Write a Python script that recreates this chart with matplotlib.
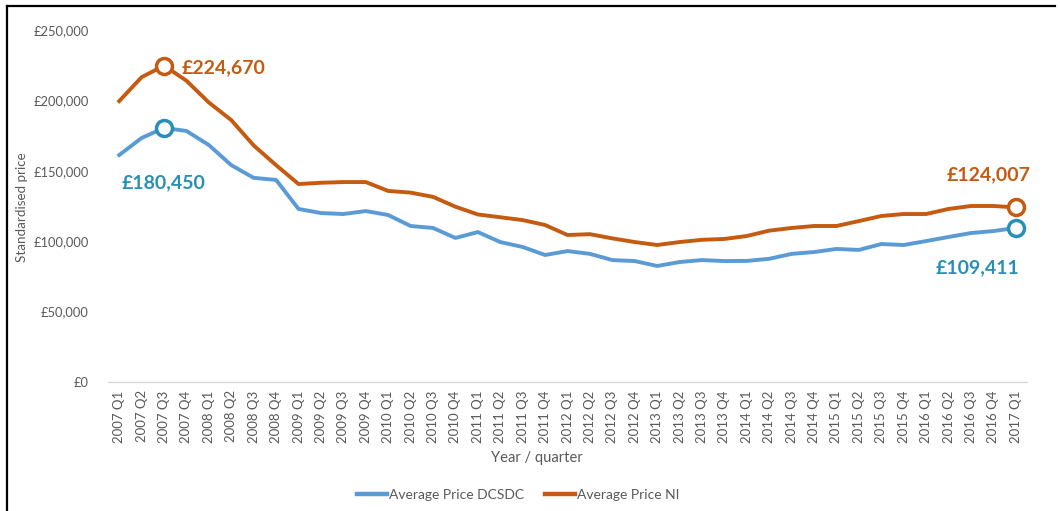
import matplotlib
matplotlib.use("Agg")
import matplotlib.pyplot as plt
from matplotlib.lines import Line2D
from matplotlib.ticker import FuncFormatter

plt.rcParams['font.family'] = ['Lato', 'DejaVu Sans']

quarters = [f"{y} Q{q}" for y in range(2007, 2018) for q in range(1, 5)][:41]

dcsdc = [161200, 173300, 180450, 178300, 168300, 154000, 145000, 143500, 122900, 120000,
         119300, 121400, 118600, 110800, 109400, 102300, 106500, 99400, 95900, 90200,
         93000, 91000, 86600, 85900, 82400, 85200, 86600, 85900, 86000, 87500,
         91000, 92300, 94500, 93800, 98000, 97300, 100100, 103000, 105800, 107200,
         109411]
ni = [199500, 216500, 224670, 214000, 198500, 186000, 168000, 154000, 140600, 141500,
      142000, 142000, 135700, 134500, 131500, 124500, 119000, 117000, 115000, 111500,
      104400, 105000, 102000, 99400, 97300, 99400, 101000, 101600, 103700, 107500,
      109400, 110800, 110800, 114300, 117900, 119300, 119300, 122900, 125000, 125000,
      124007]

blue = '#5B9BD5'
blue_dark = '#2A8FB8'
orange = '#C55A11'
grey = '#595959'

fig = plt.figure(figsize=(10.6, 5.11), dpi=100)
ax = fig.add_axes([108/1060, 1-382/511, (1027-108)/1060, (382-30)/511])

x = list(range(len(quarters)))
ax.plot(x, dcsdc, color=blue, lw=2.8, solid_joinstyle='round', label='Average Price DCSDC', zorder=3)
ax.plot(x, ni, color=orange, lw=2.8, solid_joinstyle='round', label='Average Price NI', zorder=3)

ax.set_xlim(-0.5, len(quarters) - 0.5)
ax.set_ylim(0, 250000)
ax.set_yticks(range(0, 250001, 50000))
ax.yaxis.set_major_formatter(FuncFormatter(lambda v, p: f"£{int(v):,}"))
ax.set_xticks(x)
ax.set_xticklabels(quarters, rotation=90, fontsize=9.5, color=grey)
ax.tick_params(axis='y', labelsize=9.3, labelcolor=grey, length=0, pad=14)
ax.tick_params(axis='x', length=0, pad=6)
for s in ['top', 'right', 'left']:
    ax.spines[s].set_visible(False)
ax.spines['bottom'].set_color('#D9D9D9')
ax.spines['bottom'].set_linewidth(1)

# highlighted points
peak_b = dcsdc.index(max(dcsdc))
peak_o = ni.index(max(ni))
last = len(quarters) - 1
mk = dict(marker='o', ms=11.5, mfc='white', mew=2.5, ls='none', zorder=4)
ax.plot([peak_o, last], [ni[peak_o], ni[last]], mec=orange, **mk)
ax.plot([peak_b, last], [dcsdc[peak_b], dcsdc[last]], mec=blue_dark, **mk)

af = dict(fontsize=14, fontweight='bold', textcoords='offset pixels', va='center')
ax.annotate(f"£{ni[peak_o]:,}", (peak_o, ni[peak_o]), xytext=(18, -2), ha='left', color=orange, **af)
ax.annotate(f"£{dcsdc[peak_b]:,}", (peak_b, dcsdc[peak_b]), xytext=(0, -55), ha='center', color=blue_dark, **af)
ax.annotate(f"£{ni[last]:,}", (last, ni[last]), xytext=(-27, 33), ha='center', color=orange, **af)
ax.annotate(f"£{dcsdc[last]:,}", (last, dcsdc[last]), xytext=(-38, -40), ha='center', color=blue_dark, **af)

fig.text(22/1060, 1-207/511, 'Standardised price', rotation=90, ha='center', va='center',
         fontsize=9.6, color=grey)
fig.text(537/1060, 1-458/511, 'Year / quarter', ha='center', va='center', fontsize=10.6, color=grey)

leg = fig.legend(loc='center', bbox_to_anchor=(518/1060, 1-495/511), ncol=2, frameon=False,
                 fontsize=10, handlelength=2.2, handletextpad=0.1, columnspacing=1.5)
for t in leg.get_texts():
    t.set_color(grey)
for h in leg.legend_handles:
    h.set_linewidth(3.2)

# outer border (top and left)
fig.add_artist(Line2D([7/1060, 1055/1060], [1-6/511, 1-6/511], transform=fig.transFigure,
                      color='black', lw=1.6))
fig.add_artist(Line2D([7/1060, 7/1060], [0, 1-6/511], transform=fig.transFigure,
                      color='black', lw=1.6))

fig.savefig('out.png', dpi=100)
